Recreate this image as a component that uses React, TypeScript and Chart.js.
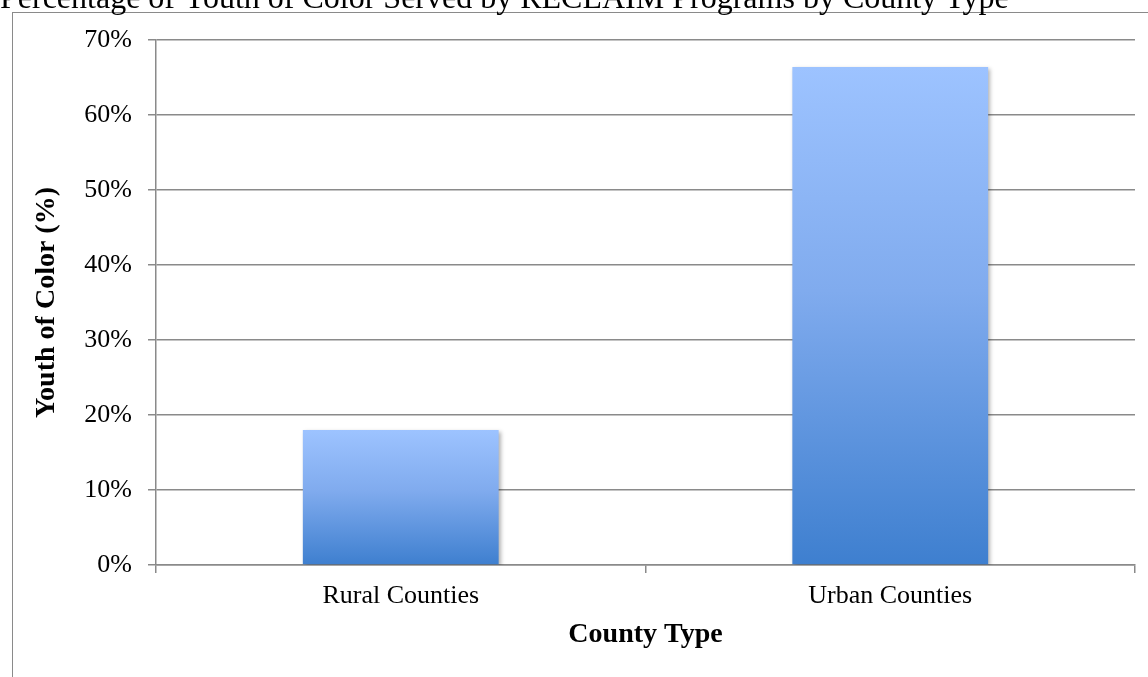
import React, { useEffect, useRef } from 'react';
import { Chart, registerables } from 'chart.js';

Chart.register(...registerables);

const CHART_TITLE = 'Percentage of Youth of Color Served by RECLAIM Programs by County Type';
const categories: string[] = ['Rural Counties', 'Urban Counties'];
const youthOfColorPct: number[] = [18.0, 66.4];
const yAxisMax = 70;
const yAxisStep = 10;
const yAxisTitle = 'Youth of Color (%)';
const xAxisTitle = 'County Type';

const FONT = '"Liberation Serif", "Times New Roman", Times, serif';
const GRID = '#8a8a8a';

const framePlugin = {
  id: 'frame',
  beforeDraw(chart: any) {
    const ctx = chart.ctx as CanvasRenderingContext2D;
    ctx.save();
    ctx.fillStyle = '#ffffff';
    ctx.fillRect(0, 0, chart.width, chart.height);
    ctx.strokeStyle = GRID;
    ctx.lineWidth = 1;
    ctx.strokeRect(12.5, 12.5, chart.width + 100, chart.height + 100);
    ctx.fillStyle = '#000000';
    ctx.font = `32px ${FONT}`;
    ctx.textAlign = 'left';
    ctx.textBaseline = 'alphabetic';
    ctx.fillText(CHART_TITLE, 0, 8);
    ctx.restore();
  },
};

const shadowPlugin = {
  id: 'barShadow',
  beforeDatasetsDraw(chart: any) {
    const ctx = chart.ctx as CanvasRenderingContext2D;
    ctx.save();
    ctx.shadowColor = 'rgba(0,0,0,0.30)';
    ctx.shadowOffsetX = 2;
    ctx.shadowOffsetY = 2;
    ctx.shadowBlur = 4;
  },
  afterDatasetsDraw(chart: any) {
    chart.ctx.restore();
  },
};

export default function App() {
  const ref = useRef<HTMLCanvasElement | null>(null);

  useEffect(() => {
    if (!ref.current) return;
    const chart = new Chart(ref.current, {
      type: 'bar',
      data: {
        labels: categories,
        datasets: [
          {
            label: yAxisTitle,
            data: youthOfColorPct,
            barPercentage: 0.4,
            categoryPercentage: 1,
            borderWidth: 0,
            backgroundColor: (c: any) => {
              const ch = c.chart;
              const area = ch.chartArea;
              if (!area || c.raw === undefined || !ch.scales.y) return '#79a6ea';
              const top = ch.scales.y.getPixelForValue(c.raw);
              const bottom = ch.scales.y.getPixelForValue(0);
              const g = ch.ctx.createLinearGradient(0, top, 0, bottom);
              g.addColorStop(0, '#9dc3ff');
              g.addColorStop(0.45, '#80abee');
              g.addColorStop(1, '#3e7fcf');
              return g;
            },
          },
        ],
      },
      options: {
        responsive: false,
        animation: false,
        devicePixelRatio: 1,
        layout: { padding: { left: 12, top: 40, right: 13, bottom: 0 } },
        plugins: {
          legend: { display: false },
          tooltip: { enabled: false },
          title: { display: false },
        },
        scales: {
          x: {
            offset: true,
            ticks: {
              color: '#000',
              font: { family: FONT, size: 26 },
              padding: 8,
              maxRotation: 0,
            },
            grid: {
              display: true,
              offset: true,
              drawOnChartArea: false,
              drawTicks: true,
              tickLength: 8,
              color: GRID,
              lineWidth: 1.5,
            },
            border: { display: true, color: GRID, width: 1.5 },
            title: {
              display: true,
              text: xAxisTitle,
              color: '#000',
              font: { family: FONT, size: 28, weight: 'bold' },
              padding: { top: 0, bottom: 25 },
            },
            afterFit: (s: any) => {
              s.height = 112;
            },
          },
          y: {
            min: 0,
            max: yAxisMax,
            ticks: {
              stepSize: yAxisStep,
              color: '#000',
              font: { family: FONT, size: 26 },
              padding: 16,
              callback: (v: any) => `${v}%`,
            },
            grid: {
              color: GRID,
              lineWidth: 1.5,
              tickLength: 8,
              drawTicks: true,
            },
            border: { display: true, color: GRID, width: 1.5 },
            title: {
              display: true,
              text: yAxisTitle,
              color: '#000',
              font: { family: FONT, size: 28, weight: 'bold' },
              padding: { top: 18, bottom: 0 },
            },
            afterFit: (s: any) => {
              s.width = 144;
            },
          },
        },
      },
      plugins: [framePlugin, shadowPlugin],
    });
    return () => chart.destroy();
  }, []);

  return (
    <canvas
      ref={ref}
      width={1148}
      height={677}
      style={{ position: 'absolute', left: 0, top: 0, display: 'block' }}
    />
  );
}
